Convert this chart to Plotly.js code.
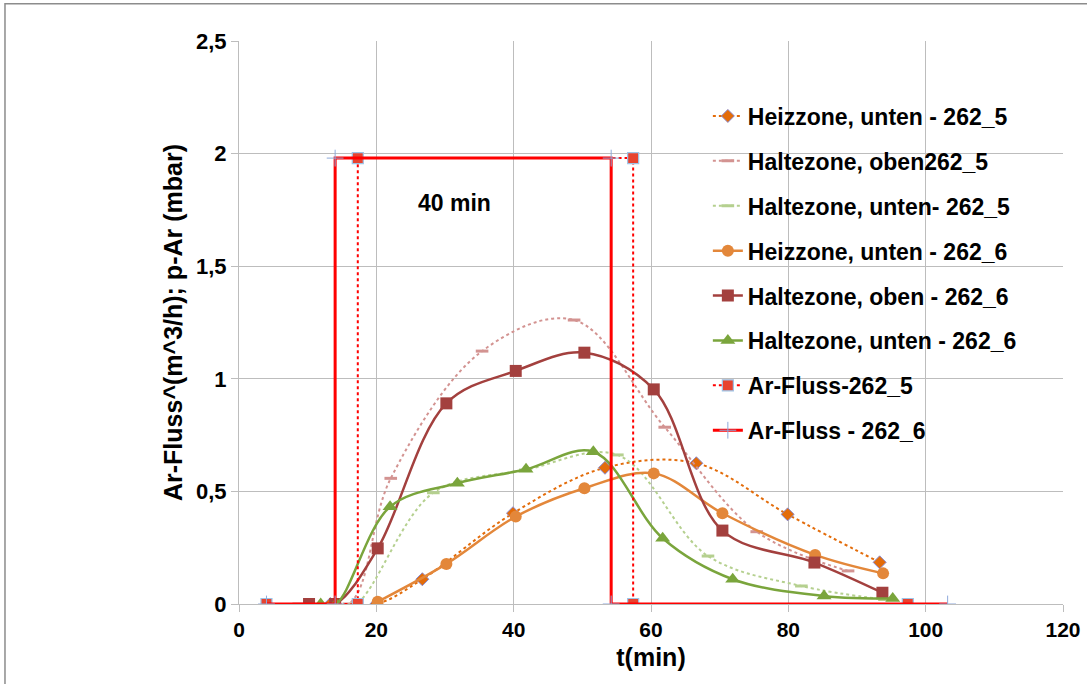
<!DOCTYPE html>
<html>
<head>
<meta charset="utf-8">
<script src="https://cdn.plot.ly/plotly-3.0.1.min.js"></script>
<style>html,body{margin:0;padding:0;background:#fff;}#chart{width:1087px;height:684px;}</style>
</head>
<body>
<div id="chart"></div>
<script>
// ---- data ----
const heiz5_x = [13.3, 20.0, 26.7, 39.9, 53.3, 66.6, 79.9, 93.3];
const heiz5_y = [0, 0, 0.11, 0.403, 0.605, 0.625, 0.398, 0.185];

const halteOben5_x = [8.7, 16.0, 22.1, 35.4, 48.8, 62.0, 75.4, 88.7];
const halteOben5_y = [0, 0, 0.558, 1.123, 1.261, 0.785, 0.321, 0.147];

const halteUnten5_x = [14.0, 17.0, 28.3, 41.7, 55.1, 68.3, 81.9, 94.0];
const halteUnten5_y = [0, 0, 0.494, 0.595, 0.662, 0.213, 0.08, 0.02];

const heiz6_x = [20.2, 30.2, 40.3, 50.3, 60.4, 70.4, 83.9, 93.8];
const heiz6_y = [0.01, 0.178, 0.388, 0.514, 0.58, 0.403, 0.218, 0.136];

const halteOben6_x = [10.2, 14.0, 20.2, 30.2, 40.3, 50.3, 60.4, 70.4, 83.8, 93.7];
const halteOben6_y = [0, 0, 0.247, 0.891, 1.035, 1.116, 0.953, 0.326, 0.184, 0.05];

const halteUnten6_x = [11.9, 14.1, 22.0, 31.8, 41.8, 51.6, 61.7, 71.9, 85.2, 95.2];
const halteUnten6_y = [0, 0, 0.432, 0.536, 0.598, 0.676, 0.292, 0.110, 0.036, 0.024];

const arFluss5_x = [4.0, 17.3, 17.3, 57.4, 57.4, 97.4];
const arFluss5_y = [0, 0, 1.98, 1.98, 0, 0];

const arFluss6_x = [4.0, 14.0, 14.0, 54.2, 54.2, 103.2];
const arFluss6_y = [0, 0, 1.98, 1.98, 0, 0];

const names = [
  'Heizzone, unten - 262_5',
  'Haltezone, oben262_5',
  'Haltezone, unten- 262_5',
  'Heizzone, unten - 262_6',
  'Haltezone, oben - 262_6',
  'Haltezone, unten - 262_6',
  'Ar-Fluss-262_5',
  'Ar-Fluss - 262_6'
];
const xTicks = [0, 20, 40, 60, 80, 100, 120];
const yTicks = [0, 0.5, 1, 1.5, 2, 2.5];

const font = 'Liberation Sans, Arial, sans-serif';
const traces = [
  {x: heiz5_x, y: heiz5_y, name: names[0], legendgroup: 'g0',
   line: {color: '#E36C0A', width: 2, dash: 'dot', shape: 'spline'},
   marker: {symbol: 'diamond', size: 10, color: '#E36C0A', line: {color: '#8A8AD0', width: 1}}},
  {x: halteOben5_x, y: halteOben5_y, name: names[1], legendgroup: 'g1',
   line: {color: '#D39391', width: 2, dash: 'dot', shape: 'spline'},
   marker: {symbol: 'line-ew', size: 9, color: '#D39391', line: {color: '#D39391', width: 3}}},
  {x: halteUnten5_x, y: halteUnten5_y, name: names[2], legendgroup: 'g2',
   line: {color: '#B5D08F', width: 2, dash: 'dot', shape: 'spline'},
   marker: {symbol: 'line-ew', size: 9, color: '#B5D08F', line: {color: '#B5D08F', width: 3}}},
  {x: heiz6_x, y: heiz6_y, name: names[3], legendgroup: 'g3',
   line: {color: '#E3873A', width: 2.5, shape: 'spline'},
   marker: {symbol: 'circle', size: 12, color: '#E3873A'}},
  {x: halteOben6_x, y: halteOben6_y, name: names[4], legendgroup: 'g4',
   line: {color: '#A3403E', width: 2.5, shape: 'spline'},
   marker: {symbol: 'square', size: 12, color: '#A3403E'}},
  {x: halteUnten6_x, y: halteUnten6_y, name: names[5], legendgroup: 'g5',
   line: {color: '#7AA53C', width: 2.5, shape: 'spline'},
   marker: {symbol: 'triangle-up', size: 13, color: '#7AA53C'}},
  {x: arFluss5_x, y: arFluss5_y, name: names[6], legendgroup: 'g6',
   line: {color: '#FF0000', width: 2, dash: 'dot'},
   marker: {symbol: 'square', size: 11, color: '#E8432F', line: {color: '#9DC3E6', width: 1.2}}},
  {x: arFluss6_x, y: arFluss6_y, name: names[7], legendgroup: 'g7',
   line: {color: '#FF0000', width: 3},
   marker: {symbol: 'cross-thin', size: 12, color: '#8EA9DB', line: {color: '#8EA9DB', width: 1}}}
].map(t => Object.assign({type: 'scatter', mode: 'lines+markers'}, t));

const layout = {
  width: 1087, height: 684,
  margin: {l: 239, r: 24, t: 41, b: 80},
  paper_bgcolor: '#fff', plot_bgcolor: '#fff',
  separators: ',.',
  showlegend: true,
  legend: {x: 0.569, y: 0.905, xanchor: 'left', yanchor: 'top', bgcolor: 'rgba(0,0,0,0)',
           traceorder: 'grouped', tracegroupgap: 12,
           font: {family: font, size: 23, color: '#000', weight: 'bold'}},
  xaxis: {range: [0, 120], tickvals: xTicks, ticks: 'outside', ticklen: 7, tickcolor: '#bdbdbd',
          showgrid: true, gridcolor: '#bdbdbd', gridwidth: 1, zeroline: false,
          showline: true, linecolor: '#bdbdbd', linewidth: 1,
          tickfont: {family: font, size: 21, color: '#000', weight: 'bold'},
          title: {text: 't(min)', font: {family: font, size: 25, color: '#000', weight: 'bold'}, standoff: 8}},
  yaxis: {range: [0, 2.5], tickvals: yTicks, ticks: 'outside', ticklen: 7, tickcolor: '#bdbdbd',
          showgrid: true, gridcolor: '#bdbdbd', gridwidth: 1, zeroline: false,
          showline: true, linecolor: '#bdbdbd', linewidth: 1,
          tickfont: {family: font, size: 22, color: '#000', weight: 'bold'},
          title: {text: 'Ar-Fluss^(m^3/h); p-Ar (mbar)', font: {family: font, size: 25, color: '#000', weight: 'bold'}, standoff: 6}},
  annotations: [
    {x: 31.4, y: 1.78, xref: 'x', yref: 'y', text: '40 min', showarrow: false,
     font: {family: font, size: 23, color: '#000', weight: 'bold'}}
  ],
  shapes: [
    {type: 'rect', xref: 'paper', yref: 'paper', x0: -0.284, x1: 1.034, y0: -0.16, y1: 1.066,
     line: {color: '#8c8c8c', width: 1.5}, fillcolor: 'rgba(0,0,0,0)', layer: 'below'}
  ]
};

Plotly.newPlot('chart', traces, layout, {displayModeBar: false, staticPlot: true});
</script>
</body>
</html>
